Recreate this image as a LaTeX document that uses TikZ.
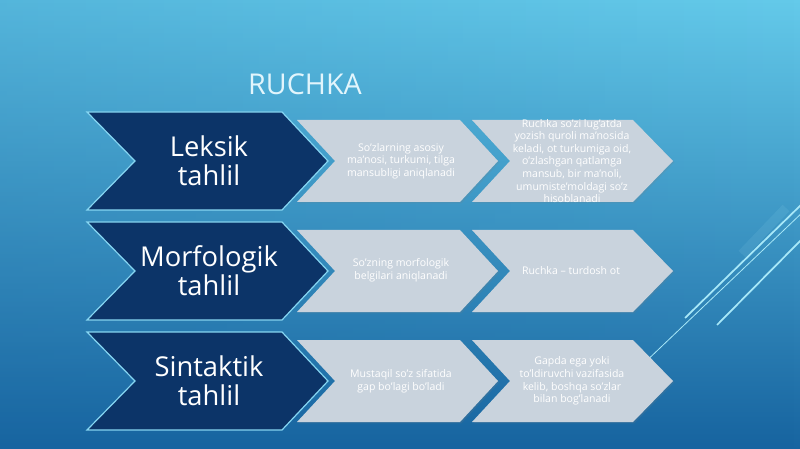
\documentclass[tikz,border=0pt]{standalone}
\usepackage{fontspec}
\setmainfont{Open Sans}
\usepackage{tikz}
\usetikzlibrary{fadings}
\usetikzlibrary{shadows}
\definecolor{bgtop}{HTML}{64CAEA}
\definecolor{bgmid}{HTML}{389CD0}
\definecolor{bgbot}{HTML}{1764A0}
\definecolor{navy}{HTML}{0C3468}
\definecolor{rim}{HTML}{86D6F2}
\definecolor{pale}{HTML}{C9D3DD}
\definecolor{streak}{HTML}{A8E8F8}
\definecolor{headtxt}{HTML}{E2F5FC}

\begin{document}
\begin{tikzpicture}[x=0.75pt,y=-0.75pt,
  darkchev/.style={fill=navy,draw=rim,line width=0.9pt},
  greychev/.style={fill=pale,drop shadow={opacity=0.18,shadow xshift=1pt,shadow yshift=-1pt}},
  bigtext/.style={text=white,align=center,inner sep=0pt,font=\fontsize{20.5}{21.5}\selectfont},
  smalltext/.style={text=white,align=center,inner sep=0pt,font=\fontsize{7.9}{9.4}\selectfont},
  head/.style={text=headtxt,inner sep=0pt,font=\fontsize{21.5}{26}\selectfont}]
\useasboundingbox (0,0) rectangle (800,449);
\clip (0,0) rectangle (800,449);
\shade[top color=bgtop,middle color=bgmid,bottom color=bgbot] (0,0) rectangle (800,449);
\fill[bgbot,path fading=east,opacity=0.2] (0,0) rectangle (800,449);

% streaks on the right
\draw[streak,line width=0.6pt] (640,367) -- (805,210);
\draw[streak,line width=1.3pt] (685,318) -- (805,201);
\draw[streak,line width=1.3pt] (717,325) -- (805,236);
\draw[streak,line width=7pt,opacity=0.1] (742,254) -- (786,208);

\node[head,anchor=base] (title) at (305,95) {RUCHKA};

\foreach \y/\nm/\txt in {161/lex/{Leksik\\tahlil},271/mor/{Morfologik\\tahlil},381/sin/{Sintaktik\\tahlil}}
{
  \draw[darkchev] (87,\y-49) -- (282,\y-49) -- (328,\y) -- (282,\y+49) -- (87,\y+49) -- (135,\y) -- cycle;
  \node[bigtext] (\nm) at (209,\y) {\txt};
  \fill[greychev] (297,\y-41) -- (460,\y-41) -- (498,\y) -- (460,\y+41) -- (297,\y+41) -- (335,\y) -- cycle;
  \fill[greychev] (472,\y-41) -- (633,\y-41) -- (673,\y) -- (633,\y+41) -- (472,\y+41) -- (510,\y) -- cycle;
}

\node[smalltext] (lexa) at (401,161) {So'zlarning asosiy\\ma'nosi, turkumi, tilga\\mansubligi aniqlanadi};
\node[smalltext] (lexb) at (572,161) {Ruchka so'zi lug'atda\\yozish quroli ma'nosida\\keladi, ot turkumiga oid,\\o'zlashgan qatlamga\\mansub, bir ma'noli,\\umumiste'moldagi so'z\\hisoblanadi};
\node[smalltext] (mora) at (401,270) {So'zning morfologik\\belgilari aniqlanadi};
\node[smalltext] (morb) at (571,271) {Ruchka -- turdosh ot};
\node[smalltext] (sina) at (401,381) {Mustaqil so'z sifatida\\gap bo'lagi bo'ladi};
\node[smalltext] (sinb) at (572,381) {Gapda ega yoki\\to'ldiruvchi vazifasida\\kelib, boshqa so'zlar\\bilan bog'lanadi};
\end{tikzpicture}
\end{document}
